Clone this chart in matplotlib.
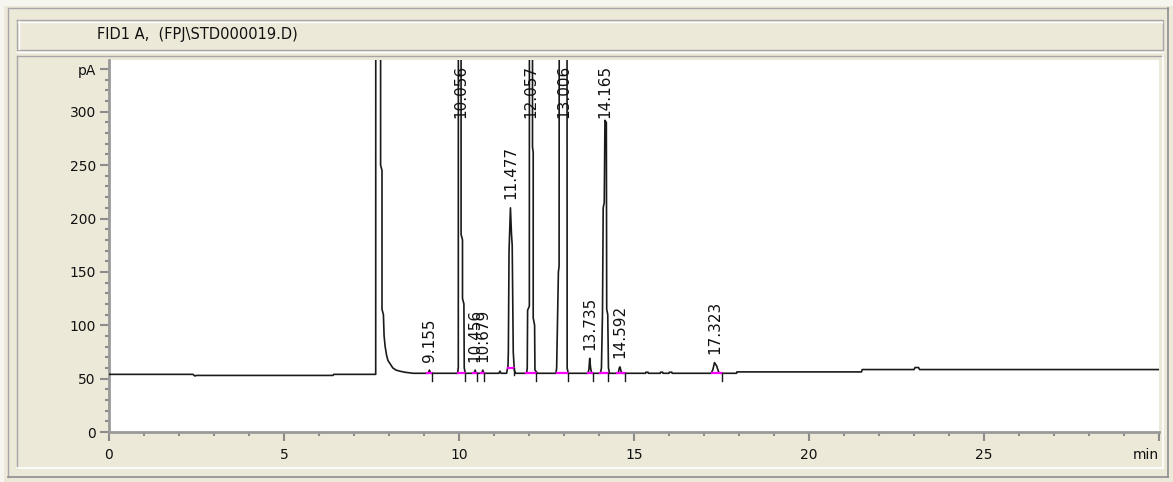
import numpy as np
import matplotlib
matplotlib.use("Agg")
from matplotlib import pyplot as plt
from matplotlib.ticker import MultipleLocator

trace_t = [0.0, 2.40, 2.45, 2.50, 6.40, 6.42, 7.62,
           7.63, 7.76, 7.76, 7.80, 7.80, 7.84, 7.86, 7.89, 7.93, 7.97, 8.05, 8.11, 8.20, 8.31, 8.45, 8.69,
           9.12, 9.155, 9.19,
           9.96, 9.98, 9.99, 10.05, 10.06, 10.10, 10.10, 10.14, 10.15, 10.18,
           10.43, 10.46, 10.49, 10.65, 10.68, 10.71,
           11.14, 11.17, 11.20,
           11.36, 11.40, 11.41, 11.43, 11.47, 11.50, 11.52, 11.55, 11.58, 11.62,
           11.93, 11.95, 11.96, 12.01, 12.02, 12.10, 12.10, 12.12, 12.12, 12.16, 12.17, 12.22, 12.25,
           12.77, 12.79, 12.84, 12.86, 12.89, 13.07, 13.09, 13.12,
           13.68, 13.71, 13.735, 13.76, 13.79,
           14.04, 14.07, 14.10, 14.12, 14.15, 14.17, 14.21, 14.22, 14.25, 14.27, 14.30,
           14.55, 14.58, 14.60, 14.63, 14.66,
           15.33, 15.34, 15.40, 15.41, 15.75, 15.76, 15.82, 15.83, 16.00, 16.01, 16.08, 16.09,
           17.20, 17.25, 17.30, 17.36, 17.42, 17.47,
           17.93, 17.94, 21.50, 21.52, 23.00, 23.03, 23.13, 23.16, 30.0]
trace_pa = [54.0, 54.0, 52.5, 53.0, 53.0, 54.0, 54.0,
            2000, 2000, 250, 245, 115, 110, 90, 80, 72, 67, 63, 60, 58, 57, 56, 55,
            55, 58, 55,
            55, 60, 2000, 2000, 185, 180, 125, 120, 60, 55,
            55, 58, 55, 55, 58, 55,
            55, 57, 55,
            55, 62, 75, 170, 210, 185, 175, 75, 58, 55,
            55, 60, 114, 118, 2000, 2000, 267, 262, 107, 100, 58, 56, 55,
            55, 60, 150, 155, 2000, 2000, 60, 55,
            55, 58, 69, 60, 55,
            55, 60, 112, 210, 215, 292, 290, 115, 110, 60, 55,
            55, 60, 61, 57, 55,
            55, 56, 56, 55, 55, 56, 56, 55, 55, 56, 56, 55,
            55, 58, 65, 62, 56, 55,
            55, 56.3, 56.3, 58.5, 58.5, 60.4, 60.4, 58.5, 58.5]

# integration results: retention time, peak start, peak end (min)
peak_rt = [9.155, 10.056, 10.456, 10.679, 11.477, 12.057, 13.006, 13.735, 14.165, 14.592, 17.323]
peak_start = [9.09, 9.96, 10.40, 10.62, 11.39, 11.91, 12.79, 13.68, 14.03, 14.50, 17.22]
peak_end = [9.24, 10.17, 10.52, 10.72, 11.57, 12.20, 13.12, 13.84, 14.27, 14.74, 17.52]

x_ticks = [0, 5, 10, 15, 20, 25, 30]
x_labels = ["0", "5", "10", "15", "20", "25", "min"]
y_ticks = [0, 50, 100, 150, 200, 250, 300, 340]
y_labels = ["0", "50", "100", "150", "200", "250", "300", "pA"]

W, H = 1173, 482
beige = "#ECE9D8"
edge = "#A7A6AA"
fig = plt.figure(figsize=(W / 100, H / 100), dpi=100, facecolor=beige)

# window frame drawn in pixel coordinates
bg = fig.add_axes([0, 0, 1, 1])
bg.set_xlim(0, W)
bg.set_ylim(H, 0)
bg.axis("off")
bg.fill_between([0, W], 0, 6, color="#F6F5F0", lw=0)
bg.fill_between([0, 4], 0, H, color="#F6F5F0", lw=0)
bg.plot([8, 1168], [8, 8], color=edge, lw=1)
bg.plot([8, 8], [8, 477], color=edge, lw=1)
bg.plot([8, 1168], [477, 477], color="#8E8D91", lw=1.2)
bg.plot([1168, 1168], [8, 477], color="#8E8D91", lw=1.2)
# title bar
bg.plot([17, 1163, 1163, 17, 17], [20, 20, 50, 50, 20], color=edge, lw=1)
bg.plot([18, 1162], [21.5, 21.5], color="white", lw=1)
bg.plot([18.5, 18.5], [21, 49], color="white", lw=1)
bg.plot([17, 1163], [51.5, 51.5], color="white", lw=1)
bg.text(97, 35, "FID1 A,  (FPJ\\STD000019.D)", fontsize=10.5, va="center", ha="left", color="#111111")
# plot panel
bg.plot([17, 1163], [56, 56], color=edge, lw=1)
bg.plot([17, 17], [56, 468], color=edge, lw=1)
bg.plot([17, 1163], [468, 468], color="white", lw=1.2)
bg.plot([1163, 1163], [56, 468], color="white", lw=1.2)

ax = fig.add_axes([109 / W, (H - 432) / H, 1050 / W, 372 / H])
ax.set_facecolor("white")
ax.plot(trace_t, trace_pa, color="#1A1A1A", lw=1.2, zorder=3)

t_arr = np.array(trace_t)
pa_arr = np.array(trace_pa)
for rt, s, e in zip(peak_rt, peak_start, peak_end):
    # integration baseline drawn flat at the lower of the two end levels
    base = min(np.interp(s, trace_t, trace_pa), np.interp(e, trace_t, trace_pa))
    ax.plot([s, e], [base, base], color="#FF00FF", lw=1.6, zorder=4)
    ax.plot([e, e], [base, base - 7], color="#1A1A1A", lw=1.0, zorder=4)
    near = (t_arr > rt - 0.07) & (t_arr < rt + 0.07)
    apex = pa_arr[near].max()
    ax.text(rt, min(apex + 8, 294), f"{rt:.3f}", rotation=90, ha="center", va="bottom",
            fontsize=11, color="#111111", zorder=5)

ax.set_xlim(0, 30)
ax.set_ylim(0, 348.5)
for s in ["top", "right"]:
    ax.spines[s].set_visible(False)
for s in ["left", "bottom"]:
    ax.spines[s].set_color("#9A9A9A")
    ax.spines[s].set_linewidth(2)

ax.set_xticks(x_ticks)
ax.set_xticklabels(x_labels)
ax.xaxis.set_minor_locator(MultipleLocator(1))
ax.set_yticks(y_ticks)
ax.set_yticklabels(y_labels)
ax.yaxis.set_minor_locator(MultipleLocator(10))
ax.tick_params(axis="both", which="major", length=6.5, width=1.5, color="#8C8C8C",
               labelsize=10, labelcolor="#111111")
ax.tick_params(axis="both", which="minor", length=3, width=1.5, color="#8C8C8C")
ax.tick_params(axis="x", which="major", pad=5)
ax.tick_params(axis="y", which="major", pad=3)
ax.get_xticklabels()[-1].set_ha("right")

fig.savefig("out.png", dpi=100, facecolor=beige)
